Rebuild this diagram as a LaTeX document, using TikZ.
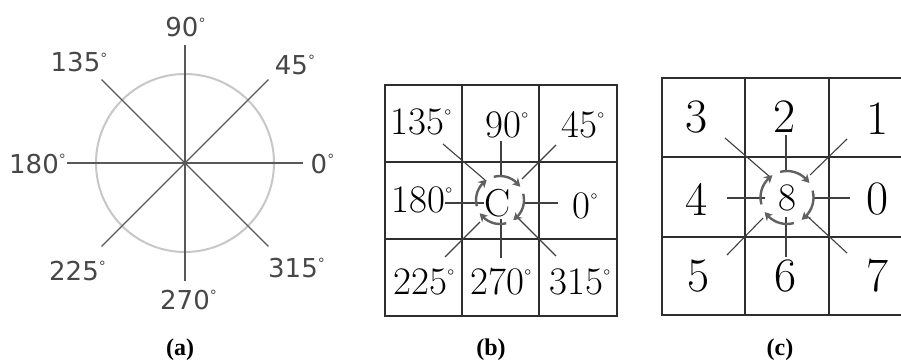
\documentclass[tikz,border=0pt]{standalone}
\usepackage{fontspec}
\newfontfamily\sansa{DejaVu Sans}
\newfontfamily\capf{Liberation Serif}
\usetikzlibrary{arrows.meta,calc,bending}
\newcommand\dg[2]{\raisebox{#2}{\fontsize{#1}{#1}\selectfont °}}
\tikzset{
 circa/.style={draw=black!22, line width=2pt},
 spoke/.style={draw=black!65, line width=1.3pt},
 alabel/.style={font=\sansa\fontsize{26}{26}\selectfont, text=black!72, inner sep=0pt},
 gridl/.style={draw=black!82, line width=1.5pt},
 ray/.style={draw=black!75, line width=1.1pt},
 turn/.style={draw=black!62, line width=2.4pt, -{Stealth[length=8pt,width=9pt,inset=2.5pt,bend]}},
 blabel/.style={font=\fontsize{39}{39}\selectfont, inner sep=0pt},
 clabel/.style={font=\fontsize{48}{48}\selectfont, inner sep=0pt},
 figcap/.style={font=\capf\bfseries\fontsize{24}{24}\selectfont, inner sep=0pt},
}
\begin{document}
\begin{tikzpicture}[x=1pt,y=-1pt]
\useasboundingbox (0,0) rectangle (901,362);
\clip (0,0) rectangle (901,362);
\fill[white] (0,0) rectangle (901,362);
% ---------- (a)
\coordinate (ca) at (185,163);
\draw[circa] (ca) circle[radius=89];
\foreach \a in {0,45,...,315}{
  \coordinate (sp\a) at ($(ca)+(-\a:118)$);
}
\foreach \a in {0,45,90,135}{
  \pgfmathtruncatemacro\b{\a+180}
  \draw[spoke] (sp\a) -- (sp\b);
}
\node[alabel] (a90)  at (185.5,27.5) {90\dg{14}{8.5pt}};
\node[alabel] (a135) at (79,62.5)    {135\dg{14}{8.5pt}};
\node[alabel] (a45)  at (295,65)     {45\dg{14}{8.5pt}};
\node[alabel] (a180) at (37.5,164)   {180\dg{14}{8.5pt}};
\node[alabel] (a0)   at (322.5,164)  {0\dg{14}{8.5pt}};
\node[alabel] (a225) at (77.5,271)   {225\dg{14}{8.5pt}};
\node[alabel] (a315) at (296.5,268)  {315\dg{14}{8.5pt}};
\node[alabel] (a270) at (188.5,300)  {270\dg{14}{8.5pt}};
\node[figcap] (capa) at (180,350) {(a)};
% ---------- (b)
\draw[gridl] (385,85) rectangle (617,316);
\draw[gridl] (462,85) -- (462,316) (539,85) -- (539,316)
             (385,162) -- (617,162) (385,239) -- (617,239);
\node[blabel] (b135) at (421,122) {135\dg{20}{11pt}};
\node[blabel] (b90)  at (507,125) {90\dg{20}{11pt}};
\node[blabel] (b45)  at (583,125) {45\dg{20}{11pt}};
\node[blabel] (b180) at (422,200) {180\dg{20}{11pt}};
\node[blabel] (bC)   at (498,203) {C};
\node[blabel] (b0)   at (585,206) {0\dg{20}{11pt}};
\node[blabel] (b225) at (424,282) {225\dg{20}{11pt}};
\node[blabel] (b270) at (501,282) {270\dg{20}{11pt}};
\node[blabel] (b315) at (580,282) {315\dg{20}{11pt}};
\draw[ray] (501,141) -- (501,176);
\draw[ray] (501,219) -- (501,258);
\draw[ray] (445,203) -- (484,203);
\draw[ray] (525,203) -- (558,203);
\draw[ray] (443,144) -- (485,180);
\draw[ray] (556,145) -- (522,179);
\draw[ray] (445,257) -- (480,222);
\draw[ray] (556,256) -- (518,218);
\coordinate (cb) at (500,200);
\foreach \s in {105,15,-75,-165}{
  \draw[turn] ($(cb)+(-\s:24)$) arc[start angle=-\s, delta angle=72, radius=24];
}
\node[figcap] (capb) at (491,350) {(b)};
% ---------- (c)
\draw[gridl] (910,78) -- (662,78) -- (662,315) -- (910,315);
\draw[gridl] (745,78) -- (745,315) (829,78) -- (829,315)
             (662,157) -- (910,157) (662,237) -- (910,237);
\node[clabel] (c3) at (697,117) {3};
\node[clabel] (c2) at (785,117) {2};
\node[clabel] (c1) at (878,119) {1};
\node[clabel] (c4) at (697,199) {4};
\node[blabel] (c8) at (787,198) {8};
\node[clabel] (c0) at (878,199) {0};
\node[clabel] (c5) at (699,276) {5};
\node[clabel] (c6) at (786,276) {6};
\node[clabel] (c7) at (878,276) {7};
\draw[ray] (786,135) -- (786,170);
\draw[ray] (786,217) -- (786,257);
\draw[ray] (727,198) -- (765,198);
\draw[ray] (813,198) -- (850,198);
\draw[ray] (725,138) -- (770,177);
\draw[ray] (847,139) -- (810,175);
\draw[ray] (727,255) -- (763,218);
\draw[ray] (847,253) -- (807,216);
\coordinate (cc) at (787,197.5);
\foreach \s in {105,15,-75,-165}{
  \draw[turn] ($(cc)+(-\s:26.5)$) arc[start angle=-\s, delta angle=72, radius=26.5];
}
\node[figcap] (capc) at (780,350) {(c)};
\end{tikzpicture}
\end{document}
